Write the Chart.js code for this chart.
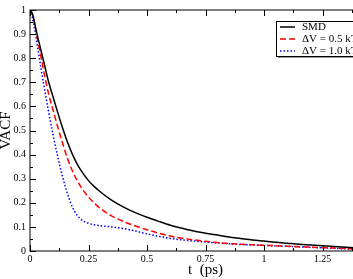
<!doctype html>
<html lang="en">
  <head>
    <meta charset="UTF-8">
    <title>VACF</title>
    <style>
      html, body { margin: 0; padding: 0; overflow: hidden; background: #fff; }
      #wrap { width: 392px; height: 279px; }
    </style>
  </head>
  <body>
    <div id="wrap"><canvas id="myChart"></canvas></div>

    <script src="https://cdnjs.cloudflare.com/ajax/libs/Chart.js/4.4.1/chart.umd.min.js"></script>
    <script>
    // Data-----
    const t = [0, 0.01, 0.02, 0.03, 0.04, 0.05, 0.06, 0.08, 0.1, 0.12, 0.14, 0.16, 0.18, 0.2,
      0.225, 0.25, 0.275, 0.3, 0.35, 0.4, 0.45, 0.5, 0.55, 0.6, 0.65, 0.7, 0.75, 0.8, 0.85, 0.9,
      0.95, 1.0, 1.05, 1.1, 1.15, 1.2, 1.25, 1.3, 1.35, 1.4, 1.45, 1.5];
    const smd = [1.0, 0.985, 0.945, 0.9, 0.86, 0.82, 0.78, 0.70, 0.635, 0.57, 0.508, 0.452, 0.404, 0.364,
      0.324, 0.292, 0.267, 0.246, 0.21, 0.182, 0.159, 0.14, 0.123, 0.107, 0.094, 0.083, 0.074, 0.066, 0.058, 0.052,
      0.046, 0.041, 0.036, 0.032, 0.028, 0.025, 0.022, 0.019, 0.016, 0.013, 0.011, 0.009];
    const dv05 = [1.0, 0.98, 0.94, 0.89, 0.84, 0.79, 0.74, 0.65, 0.58, 0.51, 0.445, 0.385, 0.335, 0.295,
      0.255, 0.224, 0.198, 0.177, 0.145, 0.122, 0.104, 0.088, 0.074, 0.062, 0.053, 0.046, 0.04, 0.035, 0.031, 0.028,
      0.026, 0.024, 0.022, 0.02, 0.018, 0.016, 0.014, 0.012, 0.01, 0.008, 0.007, 0.006];
    const dv10 = [1.0, 0.97, 0.92, 0.86, 0.8, 0.74, 0.685, 0.575, 0.475, 0.385, 0.305, 0.238, 0.185, 0.15,
      0.126, 0.115, 0.109, 0.105, 0.1, 0.093, 0.083, 0.071, 0.061, 0.052, 0.046, 0.041, 0.037, 0.033, 0.03, 0.027,
      0.025, 0.023, 0.021, 0.019, 0.017, 0.015, 0.013, 0.011, 0.009, 0.008, 0.007, 0.006];
    const labels = ['SMD', '\u0394V = 0.5 kT', '\u0394V = 1.0 kT'];
    // Data-----

    const serif = "'Liberation Serif', 'DejaVu Serif', serif";
    const xMinor = 0.125, yMinor = 0.05;

    // inward ticks + frame (xmgrace style)
    const frameTicks = {
      id: 'frameTicks',
      afterDraw(chart) {
        const {ctx, chartArea: a, scales: {x, y}} = chart;
        ctx.save();
        ctx.strokeStyle = '#000';
        ctx.lineWidth = 1;
        ctx.strokeRect(a.left, a.top, a.right - a.left, a.bottom - a.top);
        for (let i = 0; x.min + i * xMinor <= x.max + 1e-9; i++) {
          const px = Math.round(x.getPixelForValue(x.min + i * xMinor)) + 0.5;
          const len = i % 2 === 0 ? 6 : 3;
          ctx.beginPath();
          ctx.moveTo(px, a.bottom); ctx.lineTo(px, a.bottom - len);
          ctx.moveTo(px, a.top); ctx.lineTo(px, a.top + len);
          ctx.stroke();
        }
        for (let i = 0; y.min + i * yMinor <= y.max + 1e-9; i++) {
          const py = Math.round(y.getPixelForValue(y.min + i * yMinor)) + 0.5;
          const len = i % 2 === 0 ? 6 : 3;
          ctx.beginPath();
          ctx.moveTo(a.left, py); ctx.lineTo(a.left + len, py);
          ctx.moveTo(a.right, py); ctx.lineTo(a.right - len, py);
          ctx.stroke();
        }
        ctx.restore();
      }
    };

    // boxed legend inside the plot, top right
    const boxLegend = {
      id: 'boxLegend',
      afterDraw(chart) {
        const {ctx} = chart;
        const bx = 276, by = 21, bw = 88, bh = 35, row = 12;
        ctx.save();
        ctx.fillStyle = '#999';
        ctx.fillRect(bx + 2, by + 2, bw, bh);
        ctx.fillStyle = '#fff';
        ctx.fillRect(bx, by, bw, bh);
        ctx.strokeStyle = '#000';
        ctx.lineWidth = 1;
        ctx.strokeRect(bx + 0.5, by + 0.5, bw, bh);
        ctx.font = '11px ' + serif;
        ctx.textBaseline = 'middle';
        chart.data.datasets.forEach((ds, i) => {
          const ly = by + 6 + i * row;
          ctx.strokeStyle = ds.borderColor;
          ctx.lineWidth = ds.borderWidth;
          ctx.setLineDash(ds.borderDash || []);
          ctx.beginPath();
          ctx.moveTo(bx + 4, ly); ctx.lineTo(bx + 19, ly);
          ctx.stroke();
          ctx.setLineDash([]);
          ctx.fillStyle = '#000';
          ctx.fillText(ds.label, bx + 26, ly);
        });
        ctx.restore();
      }
    };

    const config = {
      type: 'line',
      data: {
        datasets: [{
          label: labels[0],
          borderColor: '#000000',
          borderWidth: 1.5,
          data: t.map((v, i) => ({x: v, y: smd[i]})),
        },
        {
          label: labels[1],
          borderColor: '#ff0000',
          borderWidth: 1.5,
          borderDash: [6, 3],
          data: t.map((v, i) => ({x: v, y: dv05[i]})),
        },
        {
          label: labels[2],
          borderColor: '#0000ff',
          borderWidth: 1.5,
          borderDash: [1.5, 2],
          data: t.map((v, i) => ({x: v, y: dv10[i]})),
        }]
      },
      options: {
        responsive: false,
        animation: false,
        layout: {padding: {top: 4, right: 11, left: 0, bottom: 0}},
        elements: {
          point: {radius: 0},
          line: {cubicInterpolationMode: 'monotone'}
        },
        plugins: {
          legend: {display: false},
          tooltip: {enabled: false}
        },
        scales: {
          x: {
            type: 'linear',
            min: 0,
            max: 1.5,
            border: {display: false},
            grid: {display: false, drawTicks: false},
            ticks: {
              stepSize: 0.25,
              padding: 2,
              color: '#000',
              maxRotation: 0,
              font: {family: serif, size: 10},
              callback: (v) => String(Number(v.toFixed(2)))
            },
            title: {
              display: true,
              text: 't  (ps)',
              color: '#000',
              font: {family: serif, size: 15},
              padding: {top: 0, bottom: 0}
            },
            afterFit(axis) { axis.height = 28; }
          },
          y: {
            type: 'linear',
            min: 0,
            max: 1,
            border: {display: false},
            grid: {display: false, drawTicks: false},
            ticks: {
              stepSize: 0.1,
              padding: 4,
              color: '#000',
              font: {family: serif, size: 10},
              callback: (v) => String(Number(v.toFixed(2)))
            },
            title: {
              display: true,
              text: 'VACF',
              color: '#000',
              font: {family: serif, size: 15, lineHeight: 0.8},
              padding: {top: 0, bottom: 0}
            },
            afterFit(axis) { axis.width = 30; }
          }
        }
      },
      plugins: [frameTicks, boxLegend]
    };

    const canvas = document.getElementById('myChart');
    canvas.width = 392;
    canvas.height = 279;
    var myChart = new Chart(canvas, config);
    </script>
  </body>
</html>
